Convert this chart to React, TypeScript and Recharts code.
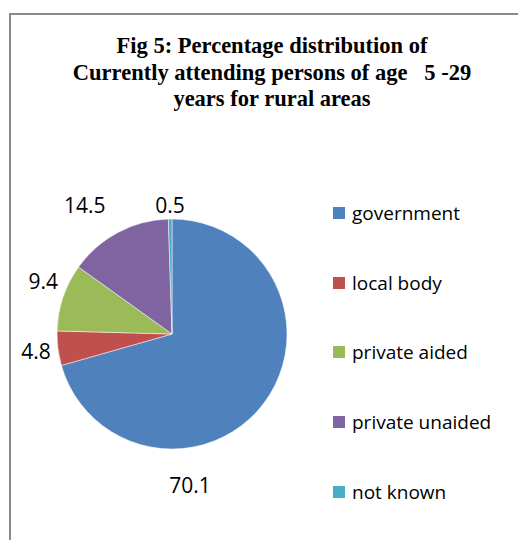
import { PieChart, Pie, Cell, Legend } from "recharts";

const categories = ["government", "local body", "private aided", "private unaided", "not known"];
const shares = [70.1, 4.8, 9.4, 14.5, 0.5];
const colors = ["#4F81BD", "#C0504D", "#9BBB59", "#8064A2", "#4BACC6"];

const data = categories.map((name, i) => ({ name, value: shares[i] }));

// Excel "best fit" moves a few labels away from the slice middle
const labelPlacement: Record<string, { angle?: number; dist?: number }> = {
  government: { angle: -83.2, dist: 152 },
  "local body": { angle: -173 },
  "private aided": { angle: 157.8, dist: 139 },
  "private unaided": { angle: 124, dist: 156 },
  "not known": { dist: 129 },
};

const RAD = Math.PI / 180;
const labelFont = "'Open Sans', 'DejaVu Sans', sans-serif";

const renderLabel = ({ cx, cy, midAngle, outerRadius, value, name }: any) => {
  const p = labelPlacement[name] ?? {};
  const a = (p.angle ?? midAngle) * RAD;
  const d = p.dist ?? outerRadius + 22;
  return (
    <text
      x={cx + d * Math.cos(a)}
      y={cy - d * Math.sin(a)}
      textAnchor="middle"
      dominantBaseline="central"
      fill="#000"
      fontSize={21}
      fontFamily={labelFont}
    >
      {value.toFixed(1)}
    </text>
  );
};

const LegendList = () => (
  <div style={{ fontFamily: labelFont, fontSize: 19, color: "#000" }}>
    {categories.map((c, i) => (
      <div key={c} style={{ display: "flex", alignItems: "center", height: 69.75 }}>
        <span style={{ width: 12, height: 12, background: colors[i], marginRight: 7, display: "inline-block" }} />
        <span>{c}</span>
      </div>
    ))}
  </div>
);

export default function App() {
  return (
    <div style={{ width: 518, height: 532, overflow: "hidden" }}>
      <div
        style={{
          position: "relative",
          marginLeft: 1,
          marginTop: 5,
          width: 540,
          height: 560,
          border: "2px solid #8a8a8a",
          background: "#fff",
        }}
      >
        <div
          style={{
            position: "absolute",
            left: 0,
            top: 18,
            width: 522,
            textAlign: "center",
            fontFamily: "'Liberation Serif', 'Times New Roman', serif",
            fontWeight: "bold",
            fontSize: 22.5,
            lineHeight: "26.5px",
            whiteSpace: "pre",
          }}
        >
          {"Fig 5: Percentage distribution of\nCurrently attending persons of age   5 -29\nyears for rural areas"}
        </div>
        <PieChart width={520} height={530} margin={{ top: 0, right: 0, bottom: 0, left: 0 }}>
          <Pie
            data={data}
            dataKey="value"
            nameKey="name"
            cx={161}
            cy={319}
            outerRadius={115}
            startAngle={90}
            endAngle={-270}
            stroke="#fff"
            strokeWidth={0.5}
            label={renderLabel}
            labelLine={false}
            isAnimationActive={false}
          >
            {data.map((d, i) => (
              <Cell key={d.name} fill={colors[i]} />
            ))}
          </Pie>
          <Legend
            content={<LegendList />}
            wrapperStyle={{ position: "absolute", left: 322, top: 163, width: 200 }}
          />
        </PieChart>
      </div>
    </div>
  );
}
